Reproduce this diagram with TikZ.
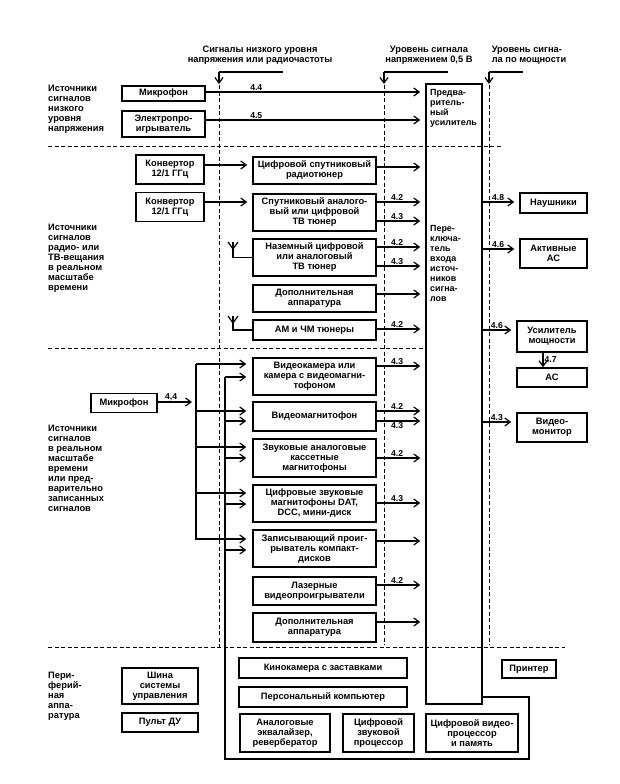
\documentclass[tikz,border=0pt]{standalone}
\usepackage{fontspec}
\setmainfont{Liberation Sans}
\usetikzlibrary{arrows.meta}

\begin{document}
\begin{tikzpicture}[x=1pt,y=-1pt,
  font=\fontsize{9.3}{10}\selectfont\bfseries,
  blk/.style={draw,line width=1.5pt,align=center,inner sep=1pt},
  src/.style={blk,minimum width=123pt},
  txt/.style={align=left,inner sep=0pt,anchor=north west},
  arr/.style={-{Straight Barb[length=5.5pt,width=8pt]},line width=1.2pt},
  dsh/.style={line width=1pt,dash pattern=on 4pt off 2.5pt},
  num/.style={font=\fontsize{8.6}{9}\selectfont\bfseries,inner sep=1pt}]
\useasboundingbox (0,0) rectangle (620,784);

\node[align=center] (tl1) at (260,55) {Сигналы низкого уровня\\напряжения или радиочастоты};
\node[align=center] (tl2) at (429,55) {Уровень сигнала\\напряжением 0,5 В};
\node[align=left] (tl3) at (529,55) {Уровень сигна-\\ла по мощности};

\node[txt] (lbl1) at (48,85) {Источники\\сигналов\\низкого\\уровня\\напряжения};
\node[blk,minimum width=83pt,minimum height=15pt] (mic1) at (163.5,93.5) {Микрофон};
\node[blk,minimum width=83pt,minimum height=26pt] (player) at (163.5,124) {Электропро-\\игрыватель};
\node[blk,minimum width=56pt,minimum height=620pt] (sw) at (454,394) {};
\node[txt,font=\fontsize{8.9}{10}\selectfont\bfseries] (pretxt) at (430,89) {Предва-\\ритель-\\ный\\усилитель};
\node[txt,font=\fontsize{8.9}{10}\selectfont\bfseries] (swtxt) at (430,225) {Пере-\\ключа-\\тель\\входа\\источ-\\ников\\сигна-\\лов};

\node[txt] (lbl2) at (48,224) {Источники\\сигналов\\радио- или\\ТВ-вещания\\в реальном\\масштабе\\времени};
\node[blk,minimum width=68pt,minimum height=29pt] (conv1) at (170,169.5) {Конвертор\\12/1 ГГц};
\node[blk,minimum width=68pt,minimum height=29pt] (conv2) at (170,207) {Конвертор\\12/1 ГГц};
\node[src,minimum height=27pt] (radio) at (314.5,170.5) {Цифровой спутниковый\\радиотюнер};
\node[src,minimum height=37pt] (sattv) at (314.5,212.5) {Спутниковый аналого-\\вый или цифровой\\ТВ тюнер};
\node[src,minimum height=37pt] (terr) at (314.5,257.5) {Наземный цифровой\\или аналоговый\\ТВ тюнер};
\node[src,minimum height=27pt] (extra1) at (314.5,298.5) {Дополнительная\\аппаратура};
\node[src,minimum height=20pt] (amfm) at (314.5,330) {АМ и ЧМ тюнеры};

\node[blk,minimum width=67pt,minimum height=20pt] (phones) at (553.5,203) {Наушники};
\node[blk,minimum width=67pt,minimum height=29pt] (actsp) at (553.5,253.5) {Активные\\АС};
\node[blk,minimum width=70pt,minimum height=31pt] (pamp) at (552,336.5) {Усилитель\\мощности};
\node[blk,minimum width=70pt,minimum height=19pt] (spk) at (552,377.5) {АС};
\node[blk,minimum width=70pt,minimum height=29pt] (vmon) at (552,427.5) {Видео-\\монитор};

\node[txt] (lbl3) at (48,425) {Источники\\сигналов\\в реальном\\масштабе\\времени\\или пред-\\варительно\\записанных\\сигналов};
\node[blk,minimum width=66pt,minimum height=19pt] (mic2) at (124,403) {Микрофон};
\node[src,minimum height=37pt] (cam) at (314.5,376.5) {Видеокамера или\\камера с видеомагни-\\тофоном};
\node[src,minimum height=29pt] (vcr) at (314.5,416.5) {Видеомагнитофон};
\node[src,minimum height=38pt] (cass) at (314.5,458) {Звуковые аналоговые\\кассетные\\магнитофоны};
\node[src,minimum height=37pt] (dat) at (314.5,503.5) {Цифровые звуковые\\магнитофоны DAT,\\DCC, мини-диск};
\node[src,minimum height=37pt] (cdrec) at (314.5,548.5) {Записывающий проиг-\\рыватель компакт-\\дисков};
\node[src,minimum height=28pt] (laser) at (314.5,591) {Лазерные\\видеопроигрыватели};
\node[src,minimum height=29pt] (extra2) at (314.5,627.5) {Дополнительная\\аппаратура};

\node[txt] (lbl4) at (48,672) {Пери-\\ферий-\\ная\\аппа-\\ратура};
\node[blk,minimum width=76pt,minimum height=36pt] (ctrl) at (160,686) {Шина\\системы\\управления};
\node[blk,minimum width=76pt,minimum height=19pt] (remote) at (160,722.5) {Пульт ДУ};
\node[blk,minimum width=168pt,minimum height=20pt] (cine) at (323,668) {Кинокамера с заставками};
\node[blk,minimum width=168pt,minimum height=20pt] (pc) at (323,697) {Персональный компьютер};
\node[blk,minimum width=90pt,minimum height=38pt] (eq) at (285,733) {Аналоговые\\эквалайзер,\\ревербератор};
\node[blk,minimum width=71pt,minimum height=38pt] (dsp) at (378.5,733) {Цифровой\\звуковой\\процессор};
\node[blk,minimum width=92pt,minimum height=38pt] (vproc) at (472,733) {Цифровой видео-\\процессор\\и память};
\node[blk,minimum width=54pt,minimum height=18pt] (printer) at (529,669) {Принтер};

% signal level lines
\coordinate (v1t) at (219,72); \coordinate (v1b) at (219,647);
\coordinate (v2t) at (384,72); \coordinate (v2b) at (384,645);
\coordinate (v3t) at (489,72); \coordinate (v3b) at (489,645);
\foreach \vl/\w in {v1/64,v2/64,v3/34}{
  \draw[dsh] (\vl t) -- (\vl b);
  \draw[line width=1.2pt] (\vl t) -- ++(\w,0);
  \draw[arr] (\vl t) -- ++(0,12);
}
\coordinate (h1) at (48,146); \coordinate (h2) at (48,348); \coordinate (h3) at (48,647);
\draw[dsh] (h1) -- ++(454,0);
\draw[dsh] (h2) -- (h2 -| sw.west);
\draw[dsh] (h3) -- ++(517,0);

\draw[arr,shorten >=5pt] (mic1.east) ++(0,-1.5) coordinate (a1) -- (a1 -| sw.west) node[num,pos=0.23,above] {4.4};
\draw[arr,shorten >=5pt] (player.east) ++(0,-4) coordinate (a2) -- (a2 -| sw.west) node[num,pos=0.23,above] {4.5};

\draw[arr,shorten >=5pt] (conv1.east) ++(0,-4.5) coordinate (c1) -- (c1 -| radio.west);
\draw[arr,shorten >=5pt] (conv2.east) ++(0,-5) coordinate (c2) -- (c2 -| sattv.west);

\coordinate (ant1) at (233,242);
\draw[line width=1.2pt] (ant1) |- (terr.west);
\draw[line width=1.2pt] (ant1) ++(-5,0) -- ++(5,7) -- ++(5,-7);
\coordinate (ant2) at (233,316);
\draw[line width=1.2pt] (ant2) |- (amfm.west);
\draw[line width=1.2pt] (ant2) ++(-5,0) -- ++(5,7) -- ++(5,-7);

\foreach \n/\d/\l in {radio/-3.5/{}, sattv/-10.5/4.2, sattv/8.5/4.3, terr/-10.5/4.2, terr/8.5/4.3,
    extra1/-4.5/{}, amfm/-1/4.2, cam/-10.5/4.3, vcr/-5.5/4.2, cass/0/4.2, dat/-0.5/4.3,
    cdrec/-7.5/{}, laser/-6/4.2, extra2/-5.5/{}}{
  \path (\n.east) ++(0,\d) coordinate (o);
  \draw[arr,shorten >=5pt] (o) -- (o -| sw.west) node[num,pos=0.42,above] {\l};
}
\path (vcr.east) ++(0,4.5) coordinate (o);
\draw[arr,shorten >=5pt] (o) -- (o -| sw.west) node[num,pos=0.42,below] {4.3};

\foreach \n/\d/\l in {phones/-1/4.8, actsp/-4.5/4.6, pamp/-6.5/4.6, vmon/-5.5/4.3}{
  \path (\n.west) ++(0,\d) coordinate (o);
  \draw[arr,shorten >=5pt] (o -| sw.east) -- (o) node[num,pos=0.42,above] {\l};
}
\draw[arr] ([xshift=-9pt]pamp.south) -- ([xshift=-9pt]spk.north) node[num,midway,right] {4.7};

% buses to recorders
\coordinate (b1) at (196,364); \coordinate (b1e) at (196,540);
\coordinate (b2) at (225,377);
\draw[line width=1.2pt] (b1) -- (b1e);
\draw[arr,shorten >=4pt] (mic2.east) ++(0,-1) coordinate (m2) -- (m2 -| b1) node[num,pos=0.35,above] {4,4};
\foreach \n/\a/\b in {cam/-12.5/0.5, vcr/-5.5/4.5, cass/-11/0, dat/-10.5/0.5, cdrec/-9.5/1.5}{
  \path (\n.west) ++(0,\a) coordinate (i) (\n.west) ++(0,\b) coordinate (j);
  \draw[arr,shorten >=6pt] (i -| b1) -- (i);
  \draw[arr,shorten >=6pt] (j -| b2) -- (j);
}
\coordinate (fbl) at (225,759); \coordinate (fbr) at (529,759); \coordinate (ftr) at (529,697);
\draw[line width=1.4pt] (b2) -- (fbl) -- (fbr) -- (ftr) -- (ftr -| sw.east);
\end{tikzpicture}
\end{document}
